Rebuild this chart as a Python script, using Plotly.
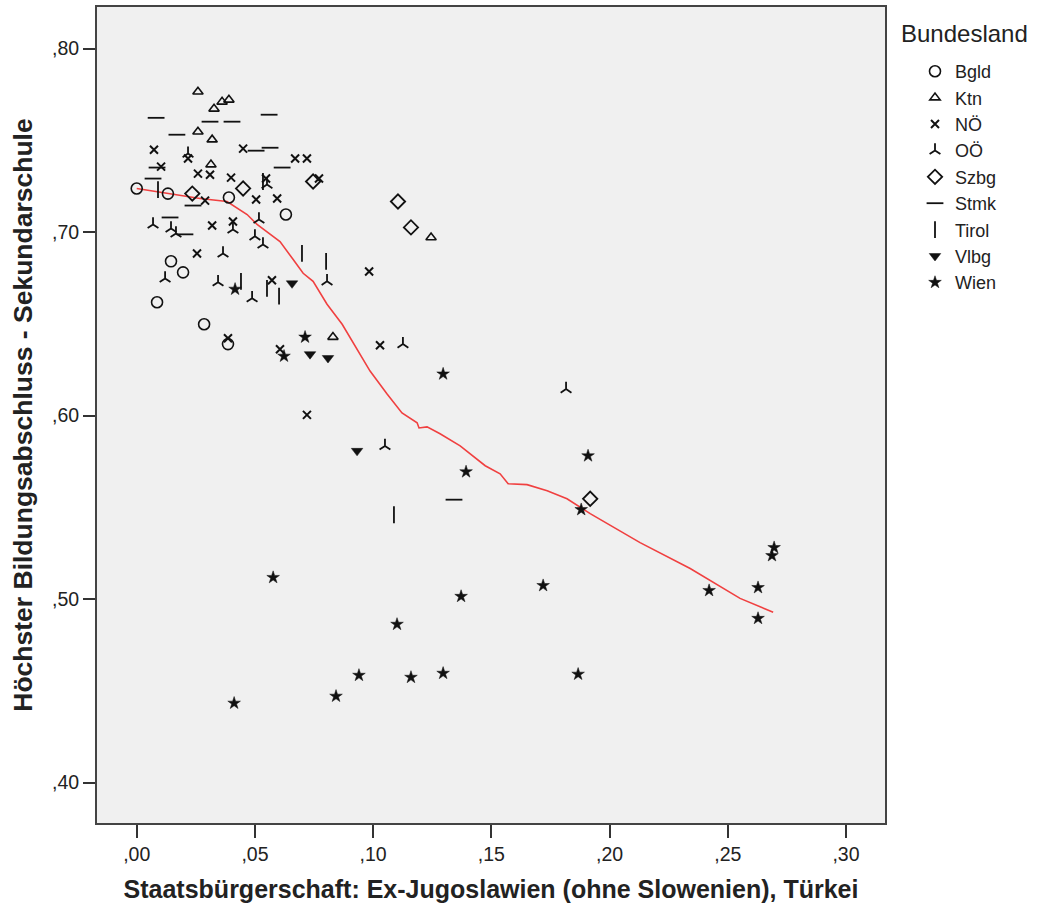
import plotly.graph_objects as go

# ---- data ----
bgld_x = [0.000, 0.0132, 0.0145, 0.0196, 0.0086, 0.0390, 0.0631, 0.0285, 0.0386]
bgld_y = [0.7238, 0.7210, 0.6841, 0.6781, 0.6618, 0.7189, 0.7096, 0.6498, 0.6390]

ktn_x = [0.0259, 0.0327, 0.0361, 0.0390, 0.0259, 0.0319, 0.0314, 0.1245, 0.0830]
ktn_y = [0.7765, 0.7672, 0.7710, 0.7721, 0.7547, 0.7504, 0.7368, 0.6971, 0.6428]

noe_x = [0.0073, 0.0103, 0.0259, 0.0310, 0.0399, 0.0505, 0.0450, 0.0547, 0.0594,
         0.0319, 0.0407, 0.0289, 0.0670, 0.0720, 0.0771, 0.0255, 0.0572, 0.0386,
         0.0606, 0.0983, 0.1029, 0.0720, 0.0217]
noe_y = [0.7449, 0.7357, 0.7319, 0.7313, 0.7297, 0.7178, 0.7455, 0.7292, 0.7183,
         0.7036, 0.7058, 0.7172, 0.7401, 0.7401, 0.7292, 0.6884, 0.6738, 0.6422,
         0.6362, 0.6786, 0.6384, 0.6004, 0.7401]

ooe_x = [0.0069, 0.0145, 0.0166, 0.0407, 0.0517, 0.0500, 0.0534, 0.0365, 0.0120,
         0.0344, 0.0488, 0.0551, 0.0217, 0.0805, 0.1126, 0.1816, 0.1050]
ooe_y = [0.7042, 0.7020, 0.6993, 0.7015, 0.7069, 0.6977, 0.6933, 0.6884, 0.6748,
         0.6727, 0.6640, 0.7259, 0.7428, 0.6732, 0.6390, 0.6145, 0.5835]

szbg_x = [0.0235, 0.0450, 0.0746, 0.1105, 0.1160, 0.1918]
szbg_y = [0.7210, 0.7238, 0.7276, 0.7167, 0.7026, 0.5547]

stmk_x = [0.0082, 0.0170, 0.0310, 0.0403, 0.0560, 0.0564, 0.0505, 0.0615, 0.0069,
          0.0141, 0.0204, 0.0238, 0.1342, 0.0086]
stmk_y = [0.7623, 0.7531, 0.7602, 0.7602, 0.7640, 0.7460, 0.7444, 0.7352, 0.7292,
          0.7080, 0.6988, 0.7145, 0.5542, 0.7352]

tirol_x = [0.0090, 0.0534, 0.0441, 0.0551, 0.0602, 0.0699, 0.0801, 0.1088]
tirol_y = [0.7232, 0.7276, 0.6732, 0.6694, 0.6651, 0.6884, 0.6841, 0.5460]

vlbg_x = [0.0657, 0.0733, 0.0809, 0.0932]
vlbg_y = [0.6721, 0.6335, 0.6314, 0.5808]

wien_x = [0.0416, 0.0712, 0.0623, 0.1296, 0.1393, 0.1909, 0.1880, 0.0577, 0.0412,
          0.0843, 0.0940, 0.1101, 0.1160, 0.1296, 0.1372, 0.1719, 0.1867, 0.2421,
          0.2628, 0.2628, 0.2687, 0.2696]
wien_y = [0.6689, 0.6428, 0.6324, 0.6227, 0.5694, 0.5781, 0.5488, 0.5118, 0.4433,
          0.4471, 0.4585, 0.4863, 0.4574, 0.4596, 0.5015, 0.5074, 0.4591, 0.5047,
          0.5063, 0.4895, 0.5237, 0.5281]

loess_x = [0.000, 0.0128, 0.0268, 0.0382, 0.0467, 0.0509, 0.0606, 0.0661, 0.0704,
           0.0746, 0.0805, 0.0869, 0.0911, 0.0987, 0.1059, 0.1122, 0.1186, 0.1194,
           0.1228, 0.1283, 0.1368, 0.1474, 0.1537, 0.1571, 0.1651, 0.1736, 0.1820,
           0.1918, 0.2129, 0.2341, 0.2552, 0.2692]
loess_y = [0.7238, 0.7210, 0.7183, 0.7167, 0.7096, 0.7042, 0.6949, 0.6852, 0.6776,
           0.6732, 0.6607, 0.6498, 0.6406, 0.6243, 0.6118, 0.6015, 0.5961, 0.5933,
           0.5939, 0.5901, 0.5835, 0.5727, 0.5683, 0.5629, 0.5624, 0.5591, 0.5547,
           0.5466, 0.5308, 0.5167, 0.5004, 0.4928]

x_ticks = [0.00, 0.05, 0.10, 0.15, 0.20, 0.25, 0.30]
x_tick_labels = [",00", ",05", ",10", ",15", ",20", ",25", ",30"]
y_ticks = [0.40, 0.50, 0.60, 0.70, 0.80]
y_tick_labels = [",40", ",50", ",60", ",70", ",80"]

groups = [
    ("Bgld", bgld_x, bgld_y, "circle-open", 11, 1.6),
    ("Ktn", ktn_x, ktn_y, "triangle-up-open", 9, 1.6),
    ("NÖ", noe_x, noe_y, "x-thin-open", 8, 2.0),
    ("OÖ", ooe_x, ooe_y, "y-up-open", 9, 1.8),
    ("Szbg", szbg_x, szbg_y, "diamond-open", 11, 1.8),
    ("Stmk", stmk_x, stmk_y, "line-ew-open", 12, 1.8),
    ("Tirol", tirol_x, tirol_y, "line-ns-open", 12, 1.8),
    ("Vlbg", vlbg_x, vlbg_y, "triangle-down", 10, 0.5),
    ("Wien", wien_x, wien_y, "star", 9.5, 0.5),
]

fig = go.Figure()

fig.add_trace(go.Scatter(
    x=loess_x, y=loess_y, mode="lines",
    line=dict(color="#f04040", width=1.6),
    showlegend=False, hoverinfo="skip",
))

for name, xs, ys, sym, size, lw in groups:
    fig.add_trace(go.Scatter(
        x=xs, y=ys, mode="markers", name=name,
        marker=dict(symbol=sym, size=size, color="#111111",
                    line=dict(color="#111111", width=lw)),
    ))

font_fam = "Liberation Sans, Arial, sans-serif"

fig.update_layout(
    width=1037, height=913,
    margin=dict(l=97, r=152, t=5, b=90),
    paper_bgcolor="white",
    plot_bgcolor="#f0f0f0",
    font=dict(family=font_fam, size=16, color="#222222"),
    legend=dict(
        x=915/1037, xref="container", xanchor="left",
        y=1 - 53/913, yref="container", yanchor="top",
        font=dict(size=18, family=font_fam, color="#222222"),
        itemwidth=30, tracegroupgap=0,
        bgcolor="rgba(0,0,0,0)",
    ),
    annotations=[dict(
        text="Bundesland", xref="paper", yref="paper",
        x=(899 - 97) / 788, y=1 - (32 - 5) / 818,
        xanchor="left", yanchor="middle", showarrow=False,
        font=dict(size=24, family=font_fam, color="#222222"),
    )],
    xaxis=dict(
        range=[-0.0168, 0.3165],
        tickvals=x_ticks, ticktext=x_tick_labels,
        ticks="outside", ticklen=13, tickwidth=2, tickcolor="#333333",
        showgrid=False, zeroline=False,
        showline=True, linecolor="#444444", linewidth=2, mirror=True,
        tickfont=dict(size=19.5, family=font_fam, color="#222222"),
        title=dict(text="<b>Staatsbürgerschaft: Ex-Jugoslawien (ohne Slowenien), Türkei</b>",
                   font=dict(size=25, family=font_fam, color="#222222"), standoff=16),
    ),
    yaxis=dict(
        range=[0.378, 0.8227],
        tickvals=y_ticks, ticktext=y_tick_labels,
        ticks="outside", ticklen=12, tickwidth=2, tickcolor="#333333",
        showgrid=False, zeroline=False,
        showline=True, linecolor="#444444", linewidth=2, mirror=True,
        tickfont=dict(size=19.5, family=font_fam, color="#222222"),
        title=dict(text="<b>Höchster Bildungsabschluss - Sekundarschule</b>",
                   font=dict(size=26.5, family=font_fam, color="#222222"), standoff=12),
    ),
)

fig.write_html("out.html")
